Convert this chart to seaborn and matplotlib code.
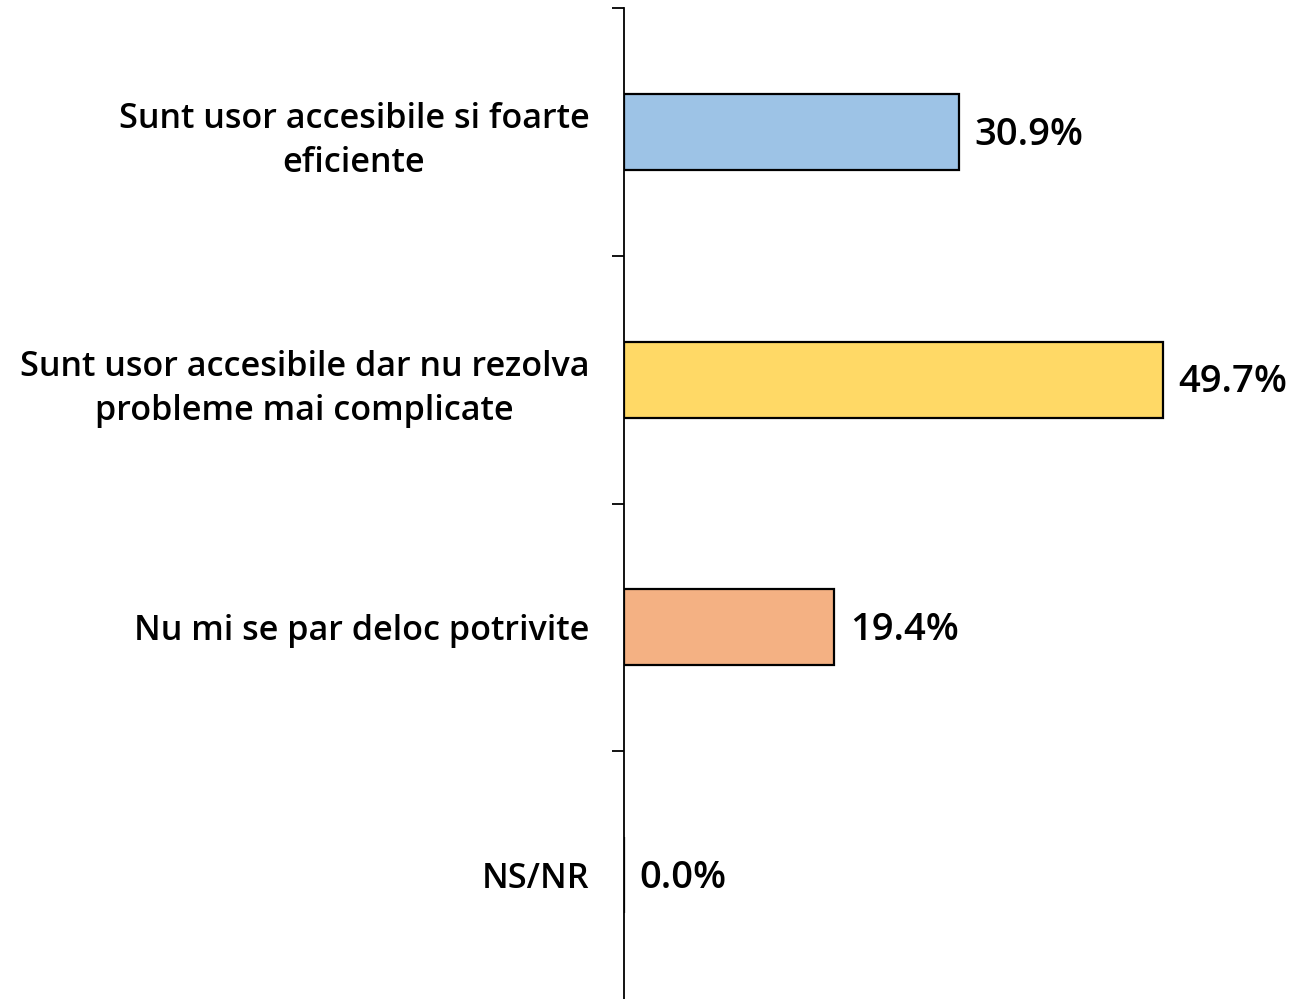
import numpy as np
import pandas as pd
import matplotlib
matplotlib.use("Agg")
import matplotlib.pyplot as plt
import seaborn as sns

# survey answers and shares (%)
answers = [
    "Sunt usor accesibile si foarte\neficiente",
    "Sunt usor accesibile dar nu rezolva\nprobleme mai complicate",
    "Nu mi se par deloc potrivite",
    "NS/NR",
]
shares = [30.9, 49.7, 19.4, 0.0]
bar_colors = ["#9DC3E6", "#FFD966", "#F4B183", "#C9C9C9"]

df = pd.DataFrame({"answer": answers, "share": shares})

sns.set_theme(style="white")
plt.rcParams["font.family"] = ["Open Sans", "DejaVu Sans"]

fig = plt.figure(figsize=(12.99, 9.99), dpi=100)
ax = fig.add_axes([624 / 1299, 0.0, 1 - 624 / 1299 - 0.002, 1 - 8 / 999])

sns.barplot(data=df, x="share", y="answer", hue="answer", palette=bar_colors,
            legend=False, width=0.306, edgecolor="black", linewidth=1.6,
            saturation=1, ax=ax)

ax.set_xlim(0, 62)
ax.set_ylim(3.5, -0.5)

# ticks sit between the categories, labels in the middle
n = len(answers)
ax.set_yticks(np.arange(n) - 0.5)
ax.set_yticklabels([])
ax.set_yticks(np.arange(n), minor=True)
ax.set_yticklabels(answers, minor=True, fontsize=24.6, fontweight="semibold",
                   ha="right", ma="center", color="black", linespacing=1.4)
ax.tick_params(axis="y", which="major", length=9, width=1.3, color="black", left=True)
ax.tick_params(axis="y", which="minor", length=0, pad=25)

ax.set_xticks([])
ax.set_xlabel("")
ax.set_ylabel("")
for side in ["top", "right", "bottom"]:
    ax.spines[side].set_visible(False)
ax.spines["left"].set_color("black")
ax.spines["left"].set_linewidth(1.3)

for i, v in enumerate(shares):
    ax.annotate(f"{v:.1f}%", xy=(v, i), xytext=(11, -2), textcoords="offset points",
                va="center", ha="left", fontsize=27.5, fontweight="semibold", color="black")

fig.savefig("out.png", dpi=100, facecolor="white")
